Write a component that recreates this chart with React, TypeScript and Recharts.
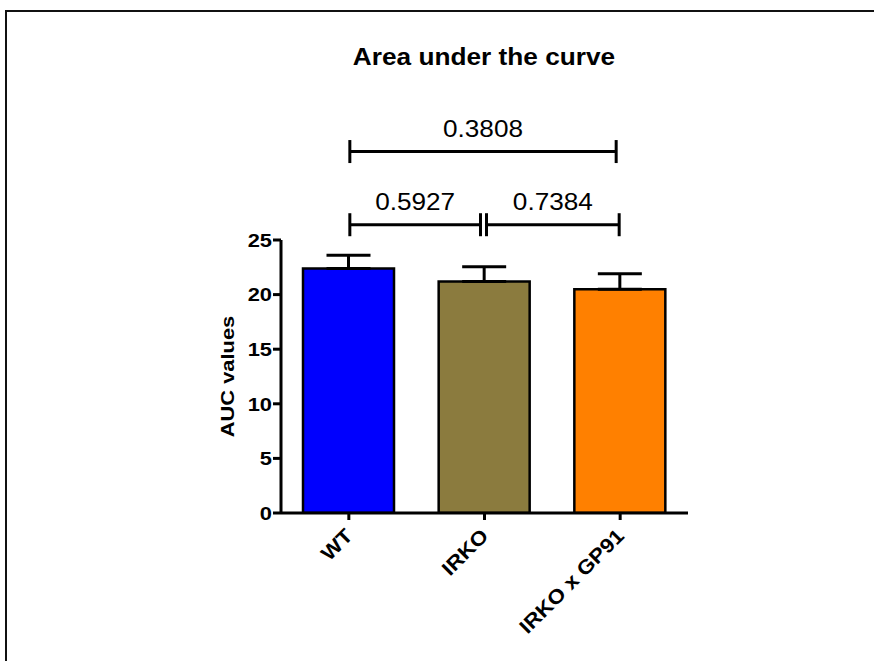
import React from 'react';
import { BarChart, Bar, XAxis, YAxis, Cell, ErrorBar, ReferenceLine, Label } from 'recharts';

const groups = ['WT', 'IRKO', 'IRKO x GP91'];
const means = [22.4, 21.2, 20.5];
const sems = [1.2, 1.35, 1.4];
const barColors = ['#0000fe', '#8b7b3e', '#ff8000'];
const yTicks = [0, 5, 10, 15, 20, 25];

// pairwise p values drawn as brackets above the bars
const pFrom = ['WT', 'WT', 'IRKO'];
const pTo = ['IRKO x GP91', 'IRKO', 'IRKO x GP91'];
const pLevel = [33.1, 26.4, 26.4];
const pText = ['0.3808', '0.5927', '0.7384'];

const data = groups.map((g, i) => ({ group: g, mean: means[i], err: [0, sems[i]] }));

const FONT = '"Liberation Sans", Arial, sans-serif';

function YTick(props: any) {
  const { x, y, payload } = props;
  return (
    <g transform={`translate(${x},${y}) scale(1.15,1)`}>
      <text textAnchor="end" dy="0.36em" fontSize={19} fontWeight="bold" fontFamily={FONT} fill="#000">
        {payload.value}
      </text>
    </g>
  );
}

function XTick(props: any) {
  const { x, y, payload } = props;
  return (
    <g transform={`translate(${x},${y + 11}) rotate(-45) scale(1.12,1)`}>
      <text textAnchor="end" dy="0.36em" fontSize={20} fontWeight="bold" fontFamily={FONT} fill="#000">
        {payload.value}
      </text>
    </g>
  );
}

function Bracket(props: any) {
  const { x1, x2, y1, text, gapL, gapR } = props;
  if (x1 == null || y1 == null) return null;
  const a = Math.min(x1, x2) + gapL;
  const b = Math.max(x1, x2) - gapR;
  return (
    <g>
      <line x1={a} x2={b} y1={y1} y2={y1} stroke="#000" strokeWidth={3} />
      <line x1={a} x2={a} y1={y1 - 11.5} y2={y1 + 11.5} stroke="#000" strokeWidth={3} />
      <line x1={b} x2={b} y1={y1 - 11.5} y2={y1 + 11.5} stroke="#000" strokeWidth={3} />
      <g transform={`translate(${(a + b) / 2},${y1 - 15}) scale(1.09,1)`}>
        <text textAnchor="middle" fontSize={24} fontFamily={FONT} fill="#000">
          {text}
        </text>
      </g>
    </g>
  );
}

function YLabel(props: any) {
  const vb = props.viewBox;
  if (!vb) return null;
  return (
    <g transform={`translate(${vb.x + 37},${vb.y + vb.height / 2}) rotate(-90) scale(1.15,1)`}>
      <text textAnchor="middle" dy="0.36em" fontSize={19} fontWeight="bold" fontFamily={FONT} fill="#000">
        AUC values
      </text>
    </g>
  );
}

export default function App() {
  return (
    <div
      style={{
        position: 'absolute',
        left: 0,
        top: 0,
        width: 874,
        height: 661,
        overflow: 'hidden',
        background: '#fff',
      }}
    >
      <div
        style={{
          position: 'absolute',
          left: 5,
          top: 10,
          width: 900,
          height: 700,
          border: '2px solid #111',
        }}
      />
      <div
        style={{
          position: 'absolute',
          left: 284,
          top: 46,
          width: 400,
          textAlign: 'center',
          fontFamily: FONT,
          fontWeight: 'bold',
          fontSize: 23,
          lineHeight: '23px',
          transform: 'scaleX(1.14)',
          color: '#000',
        }}
      >
        Area under the curve
      </div>
      <div style={{ position: 'absolute', left: 0, top: 0 }}>
        <BarChart
          width={874}
          height={661}
          data={data}
          margin={{ top: 240, right: 186, bottom: 18, left: 190 }}
        >
          <XAxis
            dataKey="group"
            height={130}
            tick={<XTick />}
            tickSize={7}
            tickMargin={1}
            interval={0}
            axisLine={{ stroke: '#000', strokeWidth: 3 }}
            tickLine={{ stroke: '#000', strokeWidth: 3 }}
          />
          <YAxis
            width={91}
            domain={[0, 25]}
            ticks={yTicks}
            tick={<YTick />}
            tickSize={8}
            tickMargin={1}
            axisLine={{ stroke: '#000', strokeWidth: 3 }}
            tickLine={{ stroke: '#000', strokeWidth: 3 }}
            allowDataOverflow
          >
            <Label content={<YLabel />} />
          </YAxis>
          <Bar dataKey="mean" barSize={91} stroke="#000" strokeWidth={2.5} isAnimationActive={false}>
            {data.map((d, i) => (
              <Cell key={d.group} fill={barColors[i]} />
            ))}
            <ErrorBar dataKey="err" direction="y" width={22} stroke="#000" strokeWidth={3} isAnimationActive={false} />
          </Bar>
          {pText.map((t, i) => (
            <ReferenceLine
              key={t}
              ifOverflow="visible"
              segment={[
                { x: pFrom[i], y: pLevel[i] },
                { x: pTo[i], y: pLevel[i] },
              ]}
              shape={(p: any) => (
                <Bracket {...p} text={t} gapL={i === 2 ? 2 : 1} gapR={i === 0 ? 4 : i === 1 ? 4 : 1} />
              )}
            />
          ))}
        </BarChart>
      </div>
    </div>
  );
}
